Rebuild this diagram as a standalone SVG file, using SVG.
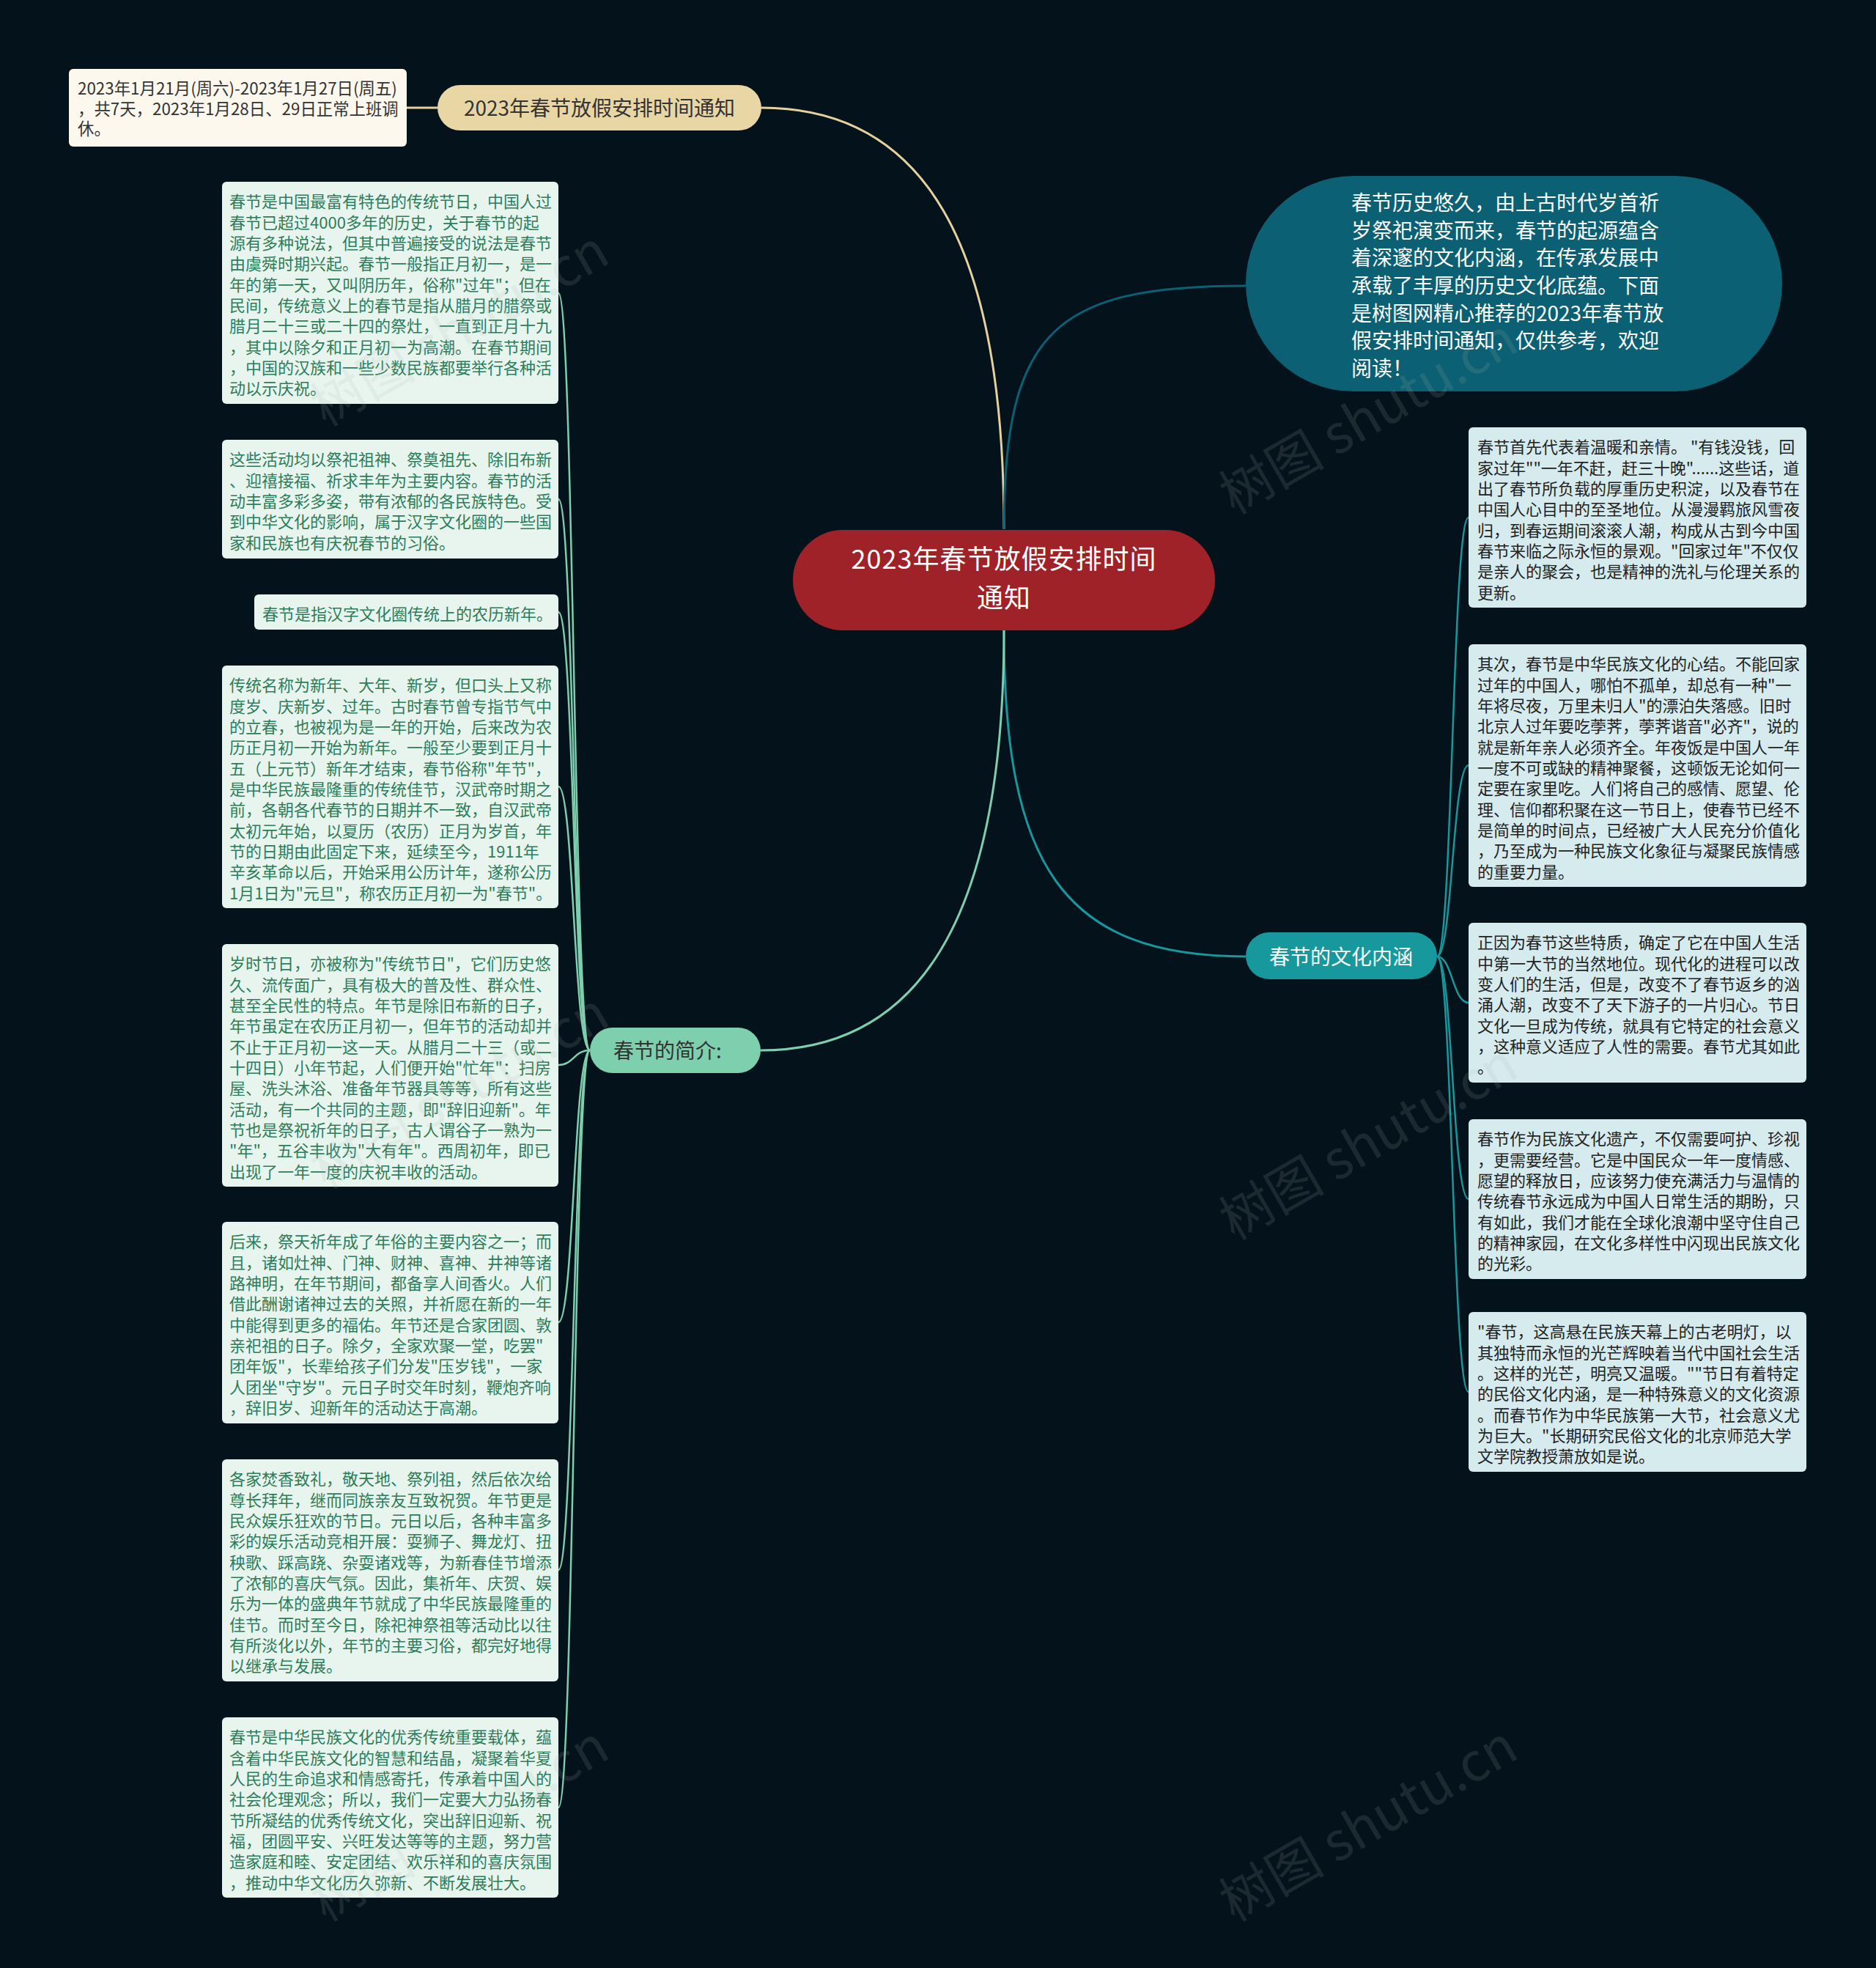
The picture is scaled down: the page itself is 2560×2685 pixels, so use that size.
<svg xmlns="http://www.w3.org/2000/svg" width="2560" height="2685" viewBox="0 0 2560 2685">
<style>
text{font-family:"Noto Sans CJK SC","Noto Sans",sans-serif;}
.lbox{fill:#e8f5ef;}
.ltxt{fill:#2d7d5a;font-size:22px;}
.rbox{fill:#d5ebee;}
.rtxt{fill:#222;font-size:22px;}
.lc{fill:none;stroke:#7ecfae;stroke-width:2.5;}
.rc{fill:none;stroke:#16989d;stroke-width:2.5;}
.wm{fill:#b0b0b0;opacity:0.14;font-size:72px;}
</style>
<rect x="0" y="0" width="2560" height="2685" fill="#04131b"/>
<g id="connectors">
<path d="M1370,722 C1370,330 1260,147 1039,147" fill="none" stroke="#e5d19e" stroke-width="3"/>
<path d="M555,147 L597,147" fill="none" stroke="#e5d19e" stroke-width="3"/>
<path d="M1370,722 C1370,450 1440,390 1700,390" fill="none" stroke="#0b6173" stroke-width="3"/>
<path d="M1370,860 C1370,1180 1450,1305 1700,1305" fill="none" stroke="#16989d" stroke-width="3"/>
<path d="M1370,860 C1370,1260 1250,1433 1038,1433" fill="none" stroke="#7ecfae" stroke-width="3"/>
<path class="lc" d="M805,1433 C783,1433 783,400 762,400"/>
<path class="lc" d="M805,1433 C783,1433 783,681 762,681"/>
<path class="lc" d="M805,1433 C783,1433 783,835 762,835"/>
<path class="lc" d="M805,1433 C783,1433 783,1073 762,1073"/>
<path class="lc" d="M805,1433 C783,1433 783,1453 762,1453"/>
<path class="lc" d="M805,1433 C783,1433 783,1804 762,1804"/>
<path class="lc" d="M805,1433 C783,1433 783,2142 762,2142"/>
<path class="lc" d="M805,1433 C783,1433 783,2466 762,2466"/>
<path class="rc" d="M1961,1305 C1982,1305 1982,706 2004,706"/>
<path class="rc" d="M1961,1305 C1982,1305 1982,1044 2004,1044"/>
<path class="rc" d="M1961,1305 C1982,1305 1982,1368 2004,1368"/>
<path class="rc" d="M1961,1305 C1982,1305 1982,1636 2004,1636"/>
<path class="rc" d="M1961,1305 C1982,1305 1982,1899 2004,1899"/>
</g>
<g id="root">
<rect x="1082" y="723" width="576" height="137" rx="68" fill="#9e2228"/>
<text font-size="36" fill="#fff" text-anchor="middle" letter-spacing="1"><tspan x="1370" y="776">2023年春节放假安排时间</tspan><tspan x="1370" y="829">通知</tspan></text>
</g>
<g id="branch-time">
<rect x="597" y="116" width="442" height="62" rx="31" fill="#e9d6a5"/>
<text x="818" y="158" font-size="28" fill="#333" text-anchor="middle">2023年春节放假安排时间通知</text>
</g>
<g id="leaf-time">
<rect x="94" y="94" width="461" height="106" rx="6" fill="#fcf8ee"/>
<text font-size="22.4" fill="#333"><tspan x="106" y="129">2023年1月21月(周六)-2023年1月27日(周五)</tspan><tspan x="106" y="157">，共7天，2023年1月28日、29日正常上班调</tspan><tspan x="106" y="184">休。</tspan></text>
</g>
<g id="intro-bubble">
<rect x="1700" y="240" width="732" height="294" rx="147" fill="#0b6173"/>
<text font-size="28" fill="#fff"><tspan x="1844" y="287">春节历史悠久，由上古时代岁首祈</tspan><tspan x="1844" y="325">岁祭祀演变而来，春节的起源蕴含</tspan><tspan x="1844" y="362">着深邃的文化内涵，在传承发展中</tspan><tspan x="1844" y="400">承载了丰厚的历史文化底蕴。下面</tspan><tspan x="1844" y="438">是树图网精心推荐的2023年春节放</tspan><tspan x="1844" y="475">假安排时间通知，仅供参考，欢迎</tspan><tspan x="1844" y="513">阅读！</tspan></text>
</g>
<g id="branch-culture">
<rect x="1700" y="1272" width="261" height="64" rx="32" fill="#16989d"/>
<text x="1830" y="1316" font-size="28" fill="#fff" text-anchor="middle">春节的文化内涵</text>
</g>
<g id="branch-intro">
<rect x="805" y="1402" width="233" height="62" rx="31" fill="#7ecfae"/>
<text x="837" y="1444" font-size="28" fill="#333">春节的简介:</text>
</g>
<g id="left-1">
<rect class="lbox" x="303" y="248" width="459" height="303" rx="6"/>
<text class="ltxt" y="283.4"><tspan x="313">春节是中国最富有特色的传统节日，中国人过</tspan><tspan x="313" dy="28.33">春节已超过4000多年的历史，关于春节的起</tspan><tspan x="313" dy="28.33">源有多种说法，但其中普遍接受的说法是春节</tspan><tspan x="313" dy="28.33">由虞舜时期兴起。春节一般指正月初一，是一</tspan><tspan x="313" dy="28.33">年的第一天，又叫阴历年，俗称"过年"；但在</tspan><tspan x="313" dy="28.33">民间，传统意义上的春节是指从腊月的腊祭或</tspan><tspan x="313" dy="28.33">腊月二十三或二十四的祭灶，一直到正月十九</tspan><tspan x="313" dy="28.33">，其中以除夕和正月初一为高潮。在春节期间</tspan><tspan x="313" dy="28.33">，中国的汉族和一些少数民族都要举行各种活</tspan><tspan x="313" dy="28.33">动以示庆祝。</tspan></text>
</g>
<g id="left-2">
<rect class="lbox" x="303" y="600" width="459" height="162" rx="6"/>
<text class="ltxt" y="635.4"><tspan x="313">这些活动均以祭祀祖神、祭奠祖先、除旧布新</tspan><tspan x="313" dy="28.33">、迎禧接福、祈求丰年为主要内容。春节的活</tspan><tspan x="313" dy="28.33">动丰富多彩多姿，带有浓郁的各民族特色。受</tspan><tspan x="313" dy="28.33">到中华文化的影响，属于汉字文化圈的一些国</tspan><tspan x="313" dy="28.33">家和民族也有庆祝春节的习俗。</tspan></text>
</g>
<g id="left-3">
<rect class="lbox" x="347" y="811" width="415" height="48" rx="6"/>
<text class="ltxt" x="358" y="846.4">春节是指汉字文化圈传统上的农历新年。</text>
</g>
<g id="left-4">
<rect class="lbox" x="303" y="908" width="459" height="331" rx="6"/>
<text class="ltxt" y="943.4"><tspan x="313">传统名称为新年、大年、新岁，但口头上又称</tspan><tspan x="313" dy="28.33">度岁、庆新岁、过年。古时春节曾专指节气中</tspan><tspan x="313" dy="28.33">的立春，也被视为是一年的开始，后来改为农</tspan><tspan x="313" dy="28.33">历正月初一开始为新年。一般至少要到正月十</tspan><tspan x="313" dy="28.33">五（上元节）新年才结束，春节俗称"年节"，</tspan><tspan x="313" dy="28.33">是中华民族最隆重的传统佳节，汉武帝时期之</tspan><tspan x="313" dy="28.33">前，各朝各代春节的日期并不一致，自汉武帝</tspan><tspan x="313" dy="28.33">太初元年始，以夏历（农历）正月为岁首，年</tspan><tspan x="313" dy="28.33">节的日期由此固定下来，延续至今，1911年</tspan><tspan x="313" dy="28.33">辛亥革命以后，开始采用公历计年，遂称公历</tspan><tspan x="313" dy="28.33">1月1日为"元旦"，称农历正月初一为"春节"。</tspan></text>
</g>
<g id="left-5">
<rect class="lbox" x="303" y="1288" width="459" height="331" rx="6"/>
<text class="ltxt" y="1323.4"><tspan x="313">岁时节日，亦被称为"传统节日"，它们历史悠</tspan><tspan x="313" dy="28.33">久、流传面广，具有极大的普及性、群众性、</tspan><tspan x="313" dy="28.33">甚至全民性的特点。年节是除旧布新的日子，</tspan><tspan x="313" dy="28.33">年节虽定在农历正月初一，但年节的活动却并</tspan><tspan x="313" dy="28.33">不止于正月初一这一天。从腊月二十三（或二</tspan><tspan x="313" dy="28.33">十四日）小年节起，人们便开始"忙年"：扫房</tspan><tspan x="313" dy="28.33">屋、洗头沐浴、准备年节器具等等，所有这些</tspan><tspan x="313" dy="28.33">活动，有一个共同的主题，即"辞旧迎新"。年</tspan><tspan x="313" dy="28.33">节也是祭祝祈年的日子，古人谓谷子一熟为一</tspan><tspan x="313" dy="28.33">"年"，五谷丰收为"大有年"。西周初年，即已</tspan><tspan x="313" dy="28.33">出现了一年一度的庆祝丰收的活动。</tspan></text>
</g>
<g id="left-6">
<rect class="lbox" x="303" y="1667" width="459" height="275" rx="6"/>
<text class="ltxt" y="1702.4"><tspan x="313">后来，祭天祈年成了年俗的主要内容之一；而</tspan><tspan x="313" dy="28.33">且，诸如灶神、门神、财神、喜神、井神等诸</tspan><tspan x="313" dy="28.33">路神明，在年节期间，都备享人间香火。人们</tspan><tspan x="313" dy="28.33">借此酬谢诸神过去的关照，并祈愿在新的一年</tspan><tspan x="313" dy="28.33">中能得到更多的福佑。年节还是合家团圆、敦</tspan><tspan x="313" dy="28.33">亲祀祖的日子。除夕，全家欢聚一堂，吃罢"</tspan><tspan x="313" dy="28.33">团年饭"，长辈给孩子们分发"压岁钱"，一家</tspan><tspan x="313" dy="28.33">人团坐"守岁"。元日子时交年时刻，鞭炮齐响</tspan><tspan x="313" dy="28.33">，辞旧岁、迎新年的活动达于高潮。</tspan></text>
</g>
<g id="left-7">
<rect class="lbox" x="303" y="1991" width="459" height="303" rx="6"/>
<text class="ltxt" y="2026.4"><tspan x="313">各家焚香致礼，敬天地、祭列祖，然后依次给</tspan><tspan x="313" dy="28.33">尊长拜年，继而同族亲友互致祝贺。年节更是</tspan><tspan x="313" dy="28.33">民众娱乐狂欢的节日。元日以后，各种丰富多</tspan><tspan x="313" dy="28.33">彩的娱乐活动竞相开展：耍狮子、舞龙灯、扭</tspan><tspan x="313" dy="28.33">秧歌、踩高跷、杂耍诸戏等，为新春佳节增添</tspan><tspan x="313" dy="28.33">了浓郁的喜庆气氛。因此，集祈年、庆贺、娱</tspan><tspan x="313" dy="28.33">乐为一体的盛典年节就成了中华民族最隆重的</tspan><tspan x="313" dy="28.33">佳节。而时至今日，除祀神祭祖等活动比以往</tspan><tspan x="313" dy="28.33">有所淡化以外，年节的主要习俗，都完好地得</tspan><tspan x="313" dy="28.33">以继承与发展。</tspan></text>
</g>
<g id="left-8">
<rect class="lbox" x="303" y="2343" width="459" height="246" rx="6"/>
<text class="ltxt" y="2378.4"><tspan x="313">春节是中华民族文化的优秀传统重要载体，蕴</tspan><tspan x="313" dy="28.33">含着中华民族文化的智慧和结晶，凝聚着华夏</tspan><tspan x="313" dy="28.33">人民的生命追求和情感寄托，传承着中国人的</tspan><tspan x="313" dy="28.33">社会伦理观念；所以，我们一定要大力弘扬春</tspan><tspan x="313" dy="28.33">节所凝结的优秀传统文化，突出辞旧迎新、祝</tspan><tspan x="313" dy="28.33">福，团圆平安、兴旺发达等等的主题，努力营</tspan><tspan x="313" dy="28.33">造家庭和睦、安定团结、欢乐祥和的喜庆氛围</tspan><tspan x="313" dy="28.33">，推动中华文化历久弥新、不断发展壮大。</tspan></text>
</g>
<g id="right-1">
<rect class="rbox" x="2004" y="583" width="461" height="246" rx="6"/>
<text class="rtxt" y="618.4"><tspan x="2016">春节首先代表着温暖和亲情。 "有钱没钱，回</tspan><tspan x="2016" dy="28.33">家过年""一年不赶，赶三十晚"......这些话，道</tspan><tspan x="2016" dy="28.33">出了春节所负载的厚重历史积淀，以及春节在</tspan><tspan x="2016" dy="28.33">中国人心目中的至圣地位。从漫漫羁旅风雪夜</tspan><tspan x="2016" dy="28.33">归，到春运期间滚滚人潮，构成从古到今中国</tspan><tspan x="2016" dy="28.33">春节来临之际永恒的景观。"回家过年"不仅仅</tspan><tspan x="2016" dy="28.33">是亲人的聚会，也是精神的洗礼与伦理关系的</tspan><tspan x="2016" dy="28.33">更新。</tspan></text>
</g>
<g id="right-2">
<rect class="rbox" x="2004" y="879" width="461" height="331" rx="6"/>
<text class="rtxt" y="914.4"><tspan x="2016">其次，春节是中华民族文化的心结。不能回家</tspan><tspan x="2016" dy="28.33">过年的中国人，哪怕不孤单，却总有一种"一</tspan><tspan x="2016" dy="28.33">年将尽夜，万里未归人"的漂泊失落感。旧时</tspan><tspan x="2016" dy="28.33">北京人过年要吃荸荠，荸荠谐音"必齐"，说的</tspan><tspan x="2016" dy="28.33">就是新年亲人必须齐全。年夜饭是中国人一年</tspan><tspan x="2016" dy="28.33">一度不可或缺的精神聚餐，这顿饭无论如何一</tspan><tspan x="2016" dy="28.33">定要在家里吃。人们将自己的感情、愿望、伦</tspan><tspan x="2016" dy="28.33">理、信仰都积聚在这一节日上，使春节已经不</tspan><tspan x="2016" dy="28.33">是简单的时间点，已经被广大人民充分价值化</tspan><tspan x="2016" dy="28.33">，乃至成为一种民族文化象征与凝聚民族情感</tspan><tspan x="2016" dy="28.33">的重要力量。</tspan></text>
</g>
<g id="right-3">
<rect class="rbox" x="2004" y="1259" width="461" height="218" rx="6"/>
<text class="rtxt" y="1294.4"><tspan x="2016">正因为春节这些特质，确定了它在中国人生活</tspan><tspan x="2016" dy="28.33">中第一大节的当然地位。现代化的进程可以改</tspan><tspan x="2016" dy="28.33">变人们的生活，但是，改变不了春节返乡的汹</tspan><tspan x="2016" dy="28.33">涌人潮，改变不了天下游子的一片归心。节日</tspan><tspan x="2016" dy="28.33">文化一旦成为传统，就具有它特定的社会意义</tspan><tspan x="2016" dy="28.33">，这种意义适应了人性的需要。春节尤其如此</tspan><tspan x="2016" dy="28.33">。</tspan></text>
</g>
<g id="right-4">
<rect class="rbox" x="2004" y="1527" width="461" height="218" rx="6"/>
<text class="rtxt" y="1562.4"><tspan x="2016">春节作为民族文化遗产，不仅需要呵护、珍视</tspan><tspan x="2016" dy="28.33">，更需要经营。它是中国民众一年一度情感、</tspan><tspan x="2016" dy="28.33">愿望的释放日，应该努力使充满活力与温情的</tspan><tspan x="2016" dy="28.33">传统春节永远成为中国人日常生活的期盼，只</tspan><tspan x="2016" dy="28.33">有如此，我们才能在全球化浪潮中坚守住自己</tspan><tspan x="2016" dy="28.33">的精神家园，在文化多样性中闪现出民族文化</tspan><tspan x="2016" dy="28.33">的光彩。</tspan></text>
</g>
<g id="right-5">
<rect class="rbox" x="2004" y="1790" width="461" height="218" rx="6"/>
<text class="rtxt" y="1825.4"><tspan x="2016">"春节，这高悬在民族天幕上的古老明灯，以</tspan><tspan x="2016" dy="28.33">其独特而永恒的光芒辉映着当代中国社会生活</tspan><tspan x="2016" dy="28.33">。这样的光芒，明亮又温暖。""节日有着特定</tspan><tspan x="2016" dy="28.33">的民俗文化内涵，是一种特殊意义的文化资源</tspan><tspan x="2016" dy="28.33">。而春节作为中华民族第一大节，社会意义尤</tspan><tspan x="2016" dy="28.33">为巨大。"长期研究民俗文化的北京师范大学</tspan><tspan x="2016" dy="28.33">文学院教授萧放如是说。</tspan></text>
</g>
<g id="watermarks">
<text class="wm" x="640" y="470" text-anchor="middle" transform="rotate(-30 640 470)">树图 shutu.cn</text>
<text class="wm" x="1880" y="590" text-anchor="middle" transform="rotate(-30 1880 590)">树图 shutu.cn</text>
<text class="wm" x="640" y="1510" text-anchor="middle" transform="rotate(-30 640 1510)">树图 shutu.cn</text>
<text class="wm" x="1880" y="1580" text-anchor="middle" transform="rotate(-30 1880 1580)">树图 shutu.cn</text>
<text class="wm" x="640" y="2510" text-anchor="middle" transform="rotate(-30 640 2510)">树图 shutu.cn</text>
<text class="wm" x="1880" y="2510" text-anchor="middle" transform="rotate(-30 1880 2510)">树图 shutu.cn</text>
</g>
</svg>
